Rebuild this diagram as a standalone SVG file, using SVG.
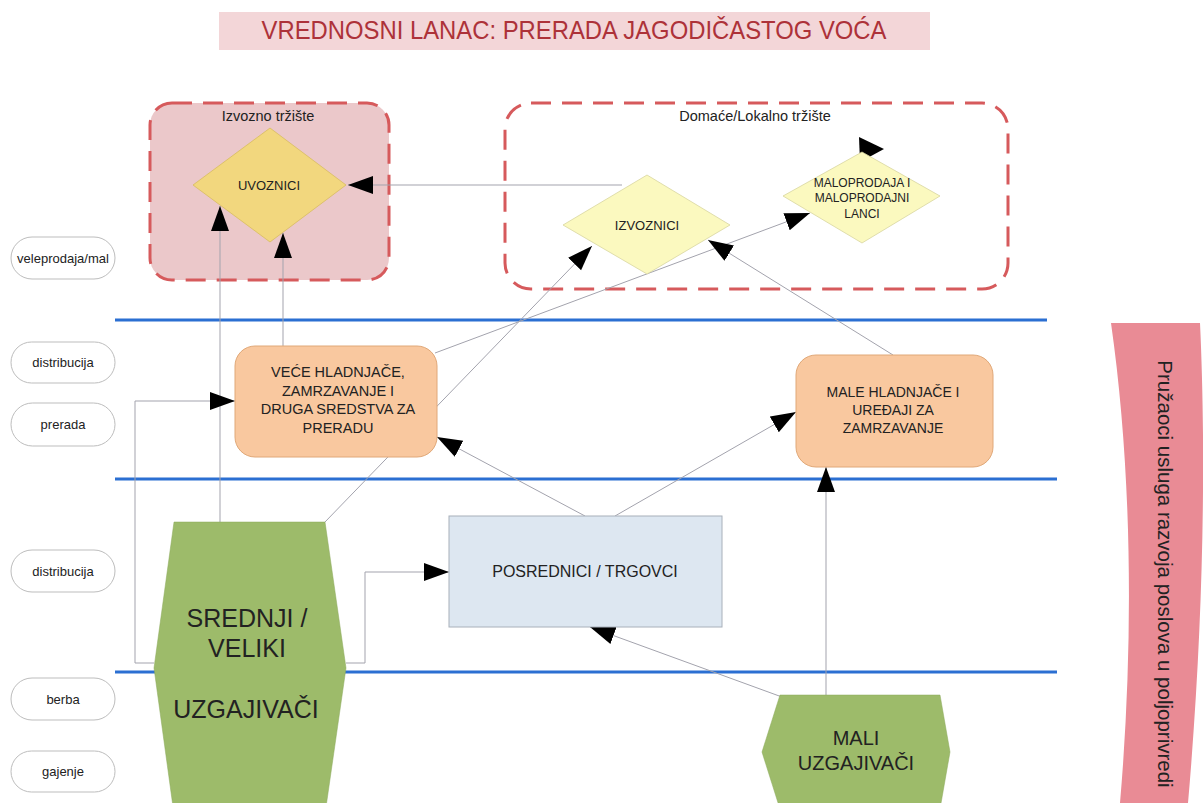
<svg xmlns="http://www.w3.org/2000/svg" width="1203" height="803" viewBox="0 0 1203 803">
<defs>
<marker id="ah" markerUnits="userSpaceOnUse" markerWidth="26" markerHeight="20" refX="25" refY="9.5" orient="auto"><path d="M0,0.5 L25,9.5 L0,18.5 z" fill="#000"/></marker>
<style>
text{font-family:"Liberation Sans",Arial,sans-serif;fill:#222;text-anchor:middle}
.pill rect{fill:#fff;stroke:#bdbdbd;stroke-width:1}
.pill text{font-size:13px}
.lane{stroke:#2b6fd2;stroke-width:3}
.mkt{stroke:#d65a5c;stroke-width:3;stroke-dasharray:20 11}
.con path{fill:none;stroke:#a3a3ad;stroke-width:1}
.arr{marker-end:url(#ah)}
.peach{fill:#f9c89f;stroke:#e0a878;stroke-width:1}
.green{fill:#9dbb6a;stroke:#8aa85a;stroke-width:0.5}
</style>
</defs>
<rect width="1203" height="803" fill="#fff"/>
<g id="title">
<rect x="219" y="12" width="711" height="38" fill="#f3d6d8"/>
<text x="574" y="39" textLength="625" lengthAdjust="spacingAndGlyphs" style="font-size:26px;fill:#ad3239">VREDNOSNI LANAC: PRERADA JAGODIČASTOG VOĆA</text>
</g>
<g id="lanes">
<line class="lane" x1="115" y1="320" x2="1047" y2="320"/>
<line class="lane" x1="115" y1="479" x2="1057" y2="479"/>
<line class="lane" x1="115" y1="672" x2="1057" y2="672"/>
</g>
<g id="stage-labels">
<g class="pill" id="lbl-veleprodaja"><rect x="11" y="237" width="104" height="42" rx="21"/><text x="63" y="263">veleprodaja/mal</text></g>
<g class="pill" id="lbl-distribucija1"><rect x="11" y="342" width="104" height="41" rx="20.5"/><text x="63" y="367">distribucija</text></g>
<g class="pill" id="lbl-prerada"><rect x="11" y="403" width="104" height="43" rx="21.5"/><text x="63" y="429">prerada</text></g>
<g class="pill" id="lbl-distribucija2"><rect x="11" y="550" width="104" height="42" rx="21"/><text x="63" y="576">distribucija</text></g>
<g class="pill" id="lbl-berba"><rect x="11" y="678" width="104" height="42" rx="21"/><text x="63" y="704">berba</text></g>
<g class="pill" id="lbl-gajenje"><rect x="11" y="751" width="104" height="41" rx="20.5"/><text x="63" y="776">gajenje</text></g>
</g>
<g id="izvozno-trziste">
<rect x="150" y="103" width="239" height="177" rx="22" fill="#ebc8ca" class="mkt"/>
<text x="268" y="121" style="font-size:14.5px">Izvozno tržište</text>
</g>
<g id="domace-trziste">
<rect x="505" y="103" width="503" height="186" rx="26" fill="none" class="mkt"/>
<text x="755" y="121" style="font-size:14.5px">Domaće/Lokalno tržište</text>
</g>
<g id="connectors" class="con">
<path class="arr" d="M220,522 V206"/>
<path class="arr" d="M283,346 V233"/>
<path class="arr" d="M622,185 H348"/>
<path class="arr" d="M154,663 H135 V401 H235"/>
<path class="arr" d="M346,663 H365 V572 H449"/>
<path class="arr" d="M325,522 L592,246"/>
<path class="arr" d="M435,353 L810,213"/>
<path class="arr" d="M893,355 L708,240"/>
<path class="arr" d="M585,516 L437,437"/>
<path class="arr" d="M615,516 L796,412"/>
<path class="arr" d="M826,695 V467"/>
<path class="arr" d="M782,697 L590,627"/>
<polygon points="859,137 860,162 884,149" fill="#000"/>
</g>
<g id="uvoznici">
<polygon points="193,185 270,128 346,185 270,242" fill="#f2d77e" stroke="#d8bc60" stroke-width="0.8"/>
<text x="269" y="190" style="font-size:13px">UVOZNICI</text>
</g>
<g id="izvoznici">
<polygon points="563,225 647,175 730,225 647,274" fill="#fbf9bf" stroke="#d8d6a0" stroke-width="0.8"/>
<text x="647" y="230" style="font-size:13px">IZVOZNICI</text>
</g>
<g id="maloprodaja">
<polygon points="783,196 862,152 940,196 862,243" fill="#fbf9bf" stroke="#d8d6a0" stroke-width="0.8"/>
<text style="font-size:12px"><tspan x="862" y="187">MALOPRODAJA I</tspan><tspan x="862" y="202">MALOPRODAJNI</tspan><tspan x="862" y="218">LANCI</tspan></text>
</g>
<g id="vece-hladnjace">
<rect x="235" y="346" width="202" height="111" rx="20" class="peach"/>
<text style="font-size:14.5px"><tspan x="338" y="377">VEĆE HLADNJAČE,</tspan><tspan x="338" y="396">ZAMRZAVANJE I</tspan><tspan x="338" y="414">DRUGA SREDSTVA ZA</tspan><tspan x="338" y="433">PRERADU</tspan></text>
</g>
<g id="male-hladnjace">
<rect x="796" y="355" width="197" height="112" rx="20" class="peach"/>
<text style="font-size:14px"><tspan x="893" y="397">MALE HLADNJAČE I</tspan><tspan x="893" y="415">UREĐAJI ZA</tspan><tspan x="893" y="433">ZAMRZAVANJE</tspan></text>
</g>
<g id="posrednici">
<rect x="449" y="516" width="273" height="111" fill="#dde7f1" stroke="#a8b0ba" stroke-width="1"/>
<text x="585" y="577" style="font-size:16px">POSREDNICI / TRGOVCI</text>
</g>
<g id="srednji-veliki">
<polygon points="174,522 325,522 346,668 325,814 174,814 154,668" class="green"/>
<text style="font-size:25px"><tspan x="247" y="627">SREDNJI /</tspan><tspan x="247" y="657">VELIKI</tspan><tspan x="246" y="718">UZGAJIVAČI</tspan></text>
</g>
<g id="mali">
<polygon points="780,695 940,695 950,752 940,809 780,809 762,752" class="green"/>
<text style="font-size:20px"><tspan x="856" y="745">MALI</tspan><tspan x="856" y="770">UZGAJIVAČI</tspan></text>
</g>
<g id="pruzaoci">
<path d="M1111,323 L1200,323 C1206,450 1204,620 1188,803 L1120,803 C1134,640 1132,470 1111,323 Z" fill="#e98b95"/>
<text x="1165" y="574" transform="rotate(90 1165 574)" dominant-baseline="central" style="font-size:20.5px">Pružaoci usluga razvoja poslova u poljoprivredi</text>
</g>
</svg>
